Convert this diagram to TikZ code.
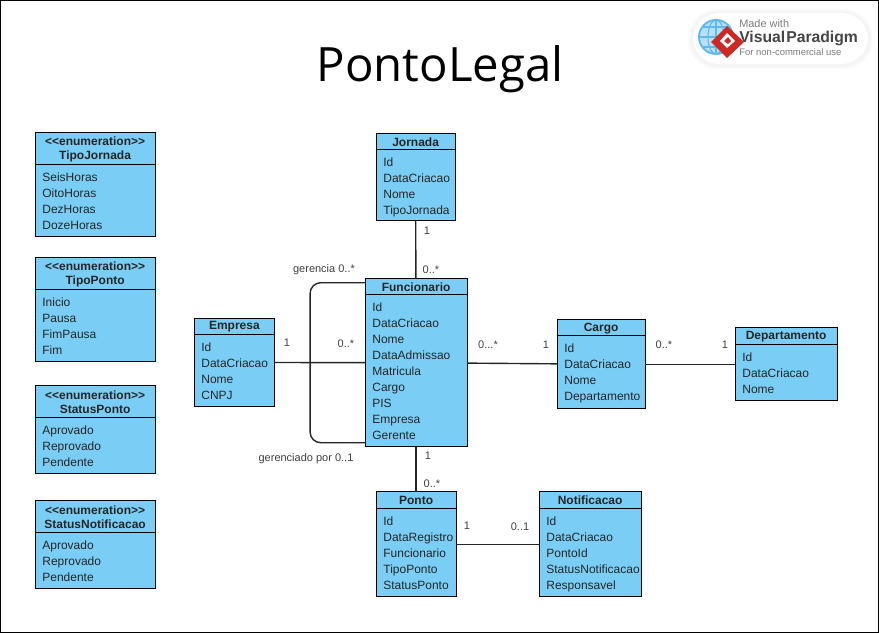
\documentclass[tikz,border=0pt]{standalone}
\usepackage{fontspec}
\usepackage{xcolor}
\newfontfamily\umlfont{Liberation Sans}
\newfontfamily\titlefont{Open Sans}
\definecolor{umlblue}{RGB}{122,206,246}
\definecolor{logogrey}{RGB}{125,125,125}
\definecolor{logodark}{RGB}{70,70,70}
\definecolor{logored}{RGB}{205,40,35}
\definecolor{globeblue}{RGB}{95,185,235}
\tikzstyle{classbox} = [draw=black,fill=umlblue,line width=0.85pt,inner sep=0pt,outer sep=0pt]
\tikzstyle{classtitle} = [inner sep=0pt,align=center,font=\umlfont\bfseries\fontsize{9}{10.8}\selectfont,text=black!85]
\tikzstyle{classitems} = [inner sep=0pt,anchor=north west,align=left,font=\umlfont\fontsize{9}{12}\selectfont,text=black!85]
\tikzstyle{assoc} = [line width=1.05pt,black!85]
\tikzstyle{multi} = [inner sep=0pt,font=\umlfont\fontsize{8.25}{10}\selectfont,text=black!75]
\begin{document}
\begin{tikzpicture}[x=0.75pt,y=-0.75pt]
	\useasboundingbox (0,0) rectangle (879,633);
	% Frame:
	\draw [black,line width=1pt] (0.7,0.7) rectangle (878.3,632.3);

	% Title:
	\node (title) [inner sep=0pt,font=\titlefont\fontsize{35.5}{40}\selectfont,text=black] at (440,69) {PontoLegal};

	% Logo:
	\fill [black!2,rounded corners=22pt] (688,9) rectangle (873,69);
	\fill [black!4,rounded corners=21pt] (690,11) rectangle (871,67);
	\fill [white,rounded corners=20pt] (693,13) rectangle (868,64);
	\begin{scope}[globeblue,line width=0.8pt]
		\fill [globeblue!45] (716,37) circle (17);
		\draw [line width=1.4pt] (716,37) circle (17);
		\draw (716,37) ellipse (8 and 17);
		\draw (699,37) -- (733,37);
		\draw (702,27) -- (730,27);
		\draw (702,47) -- (730,47);
		\draw (716,20) -- (716,54);
	\end{scope}
	\fill [logored] (727,26) -- (744,42) -- (727,58) -- (711,42) -- cycle;
	\fill [white] (727,33) -- (735,41) -- (727,48) -- (720,41) -- cycle;
	\fill [logored] (728,37) -- (731,41) -- (728,44) -- (724,41) -- cycle;
	\node (logoa) [inner sep=0pt,anchor=west,font=\umlfont\fontsize{8.2}{9}\selectfont,text=logogrey] at (739,24) {Made with};
	\node (logob) [inner sep=0pt,anchor=west,font=\umlfont\bfseries\fontsize{11.8}{13}\selectfont,text=logodark] at (739,38) {Visual\kern0.7pt Paradigm};
	\node (logoc) [inner sep=0pt,anchor=west,font=\umlfont\fontsize{7.1}{8}\selectfont,text=logogrey] at (739,52) {For non-commercial use};

	\begin{scope}[shift={(0.1,-0.3)}]
	% Classes: name / left / top / right / bottom / separator / title / attributes
	\foreach \name/\xa/\ya/\xb/\yb/\ys/\ttl/\items in {
		tipojornada/35/133/155/237/165/{<<enumeration>>\\TipoJornada}/{SeisHoras\\OitoHoras\\DezHoras\\DozeHoras},
		tipoponto/35/258/155/362/290/{<<enumeration>>\\TipoPonto}/{Inicio\\Pausa\\FimPausa\\Fim},
		statusponto/35/386/155/474/418/{<<enumeration>>\\StatusPonto}/{Aprovado\\Reprovado\\Pendente},
		statusnotif/35/501/155/589/533/{<<enumeration>>\\StatusNotificacao}/{Aprovado\\Reprovado\\Pendente},
		jornada/376/134/455/221/150/{Jornada}/{Id\\DataCriacao\\Nome\\TipoJornada},
		funcionario/365/279/467/447/295/{Funcionario}/{Id\\DataCriacao\\Nome\\DataAdmissao\\Matricula\\Cargo\\PIS\\Empresa\\Gerente},
		empresa/194/318.5/274.5/407/335/{Empresa}/{Id\\DataCriacao\\Nome\\CNPJ},
		cargo/557/320/645/409/336/{Cargo}/{Id\\DataCriacao\\Nome\\Departamento},
		departamento/735/328/837/401/345/{Departamento}/{Id\\DataCriacao\\Nome},
		ponto/376/492/456/597/509/{Ponto}/{Id\\DataRegistro\\Funcionario\\TipoPonto\\StatusPonto},
		notificacao/539/492/641/597/509/{Notificacao}/{Id\\DataCriacao\\PontoId\\StatusNotificacao\\Responsavel}%
	}{%
		\node (\name) [classbox,minimum width={(\xb-\xa)*0.75pt},minimum height={(\yb-\ya)*0.75pt}] at ({(\xa+\xb)/2},{(\ya+\yb)/2}) {};
		\draw [line width=0.85pt] (\xa,\ys) -- (\xb,\ys);
		\node (\name title) [classtitle] at ({(\xa+\xb)/2},{(\ya+\ys)/2+0.5}) {\ttl};
		\node (\name items) [classitems] at ({\xa+7},{\ys+5.2}) {\strut\items};
	}

	% Associations:
	\draw [assoc] (jornada) -- (funcionario);
	\draw [assoc] (empresa) -- (funcionario);
	\draw [assoc] (funcionario) -- (cargo);
	\draw [assoc] (cargo) -- (departamento);
	\draw [assoc] (funcionario) -- (ponto);
	\draw [assoc] (ponto) -- (notificacao);

	% Self association:
	\coordinate (gerenciaend) at (365,283);
	\coordinate (gerenteend) at (365,443);
	\draw [assoc,rounded corners=8pt] (gerenciaend) -- (310,283) -- (310,443) -- (gerenteend);
	\end{scope}

	% Multiplicities:
	\foreach \name/\x/\y/\txt in {
		ma/427/231/{1}, mb/431/270/{0..*},
		mc/324/270/{gerencia 0..*}, md/306/459/{gerenciado por 0..1},
		me/287/343/{1}, mf/346/344/{0..*},
		mg/488/345/{0...*}, mh/546/345/{1},
		mi/664/345/{0..*}, mj/725/345/{1},
		mk/428/456/{1}, ml/432/484/{0..*},
		mm/467/526/{1}, mn/520/527/{0..1}%
	}{%
		\node (\name) [multi] at (\x,\y) {\txt};
	}
\end{tikzpicture}
\end{document}
